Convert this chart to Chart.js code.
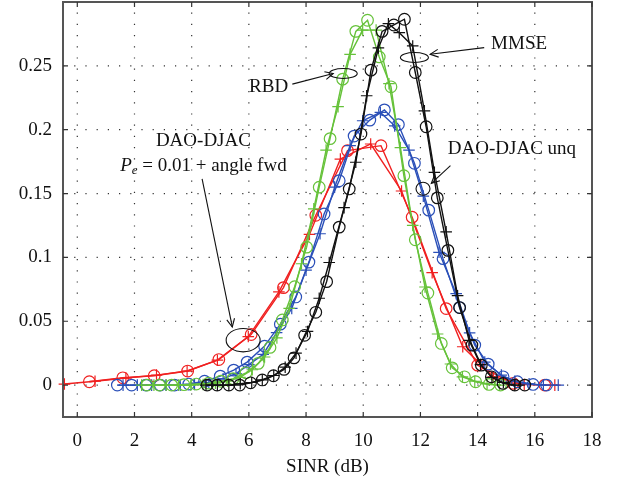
<!DOCTYPE html>
<html><head><meta charset="utf-8">
<script src="https://cdn.jsdelivr.net/npm/chart.js@4.4.0/dist/chart.umd.min.js"></script>
<style>html,body{margin:0;padding:0;background:#fff;}canvas{display:block;}</style>
</head><body>
<canvas id="c" width="617" height="482"></canvas>
<script>
const xTicks = [0,2,4,6,8,10,12,14,16,18];
const yTicks = [0,0.05,0.1,0.15,0.2,0.25];
const yTickLabels = ['0','0.05','0.1','0.15','0.2','0.25'];
const xTitle = 'SINR (dB)';

const redCircX = [0.42,1.59,2.69,3.86,4.95,6.08,7.21,8.34,9.45,10.62,11.71,12.9,14.0,15.24,16.35];
const redCircY = [0.0026,0.0057,0.0073,0.011,0.020,0.0396,0.0763,0.133,0.1836,0.1875,0.1315,0.0599,0.0156,0.0013,0.0];
const redPlusX = [-0.45,0.62,1.7,2.77,3.84,4.9,5.98,7.05,8.12,9.2,10.26,11.34,12.41,13.48,14.55,15.63,16.7];
const redPlusY = [0.0008,0.003,0.0055,0.0078,0.011,0.0195,0.038,0.073,0.118,0.177,0.1888,0.152,0.088,0.030,0.0065,0.0005,0];

const blueCircX = [1.4,1.9,2.4,2.9,3.4,3.9,4.45,5.0,5.47,5.94,6.55,7.1,7.64,8.1,8.63,9.16,9.68,10.23,10.74,11.23,11.79,12.29,12.79,13.37,13.9,14.37,14.89,15.39,15.94,16.41];
const blueCircY = [0,0,0,0,0,0.0008,0.003,0.007,0.0117,0.018,0.0305,0.0477,0.069,0.0963,0.134,0.16,0.195,0.2075,0.2155,0.204,0.1737,0.137,0.099,0.0607,0.0313,0.0164,0.0065,0.0026,0.0005,0];
const bluePlusX = [1.6,2.1,2.6,3.1,3.6,4.1,4.6,5.1,5.55,6.0,6.5,6.97,7.5,8.0,8.49,9.0,9.54,9.98,10.6,11.1,11.6,12.1,12.65,13.25,13.72,14.25,14.83,15.3,15.8,16.3,16.82];
const bluePlusY = [0,0,0,0,0,0.0005,0.002,0.005,0.009,0.016,0.024,0.041,0.06,0.09,0.1185,0.155,0.1875,0.207,0.2135,0.203,0.184,0.148,0.104,0.0716,0.0409,0.018,0.0078,0.003,0.001,0,0];

const greenCircX = [2.44,2.87,3.3,3.73,4.16,4.59,5.02,5.45,5.9,6.33,6.74,7.17,7.6,8.02,8.46,8.84,9.28,9.74,10.15,10.56,10.97,11.42,11.82,12.26,12.73,13.11,13.54,13.93,14.4,14.8];
const greenCircY = [0,0,0,0.0003,0.0008,0.0015,0.003,0.005,0.0096,0.017,0.0295,0.051,0.077,0.108,0.155,0.193,0.2396,0.277,0.2857,0.257,0.2336,0.164,0.1138,0.0721,0.0326,0.0135,0.0065,0.0026,0.0005,0];
const greenPlusX = [2.25,2.68,3.11,3.54,3.97,4.4,4.83,5.26,5.69,6.12,6.55,6.98,7.41,7.84,8.27,8.7,9.12,9.54,9.98,10.45,10.9,11.3,11.73,12.16,12.6,13.05,13.47,13.9,14.33,14.76];
const greenPlusY = [0,0,0,0,0,0.0005,0.0015,0.003,0.006,0.012,0.022,0.037,0.06,0.095,0.138,0.184,0.218,0.259,0.278,0.278,0.236,0.186,0.125,0.0768,0.040,0.0165,0.0065,0.003,0.001,0];

const blackCircX = [4.54,4.89,5.3,5.68,6.06,6.47,6.86,7.23,7.58,7.95,8.34,8.72,9.16,9.51,9.92,10.27,10.66,11.07,11.44,11.82,12.2,12.59,12.96,13.37,13.8,14.13,14.48,14.89,15.3,15.65];
const blackCircY = [0,0,0,0,0.0018,0.004,0.0073,0.0123,0.0213,0.039,0.057,0.081,0.1237,0.1536,0.1966,0.2466,0.277,0.282,0.2865,0.2448,0.2023,0.1466,0.1055,0.0607,0.0313,0.0156,0.0065,0.0013,0,0];
const blackPlusX = [4.5,4.9,5.3,5.7,6.1,6.47,6.87,7.27,7.65,8.05,8.46,8.81,9.33,9.74,10.12,10.53,10.88,11.26,11.73,12.14,12.49,12.9,13.3,13.7,14.1,14.5,14.9,15.3];
const blackPlusY = [0,0,0,0.001,0.002,0.004,0.0075,0.014,0.025,0.042,0.068,0.096,0.139,0.1745,0.2266,0.264,0.283,0.276,0.2656,0.2148,0.1666,0.12,0.07,0.035,0.016,0.006,0.002,0];

const RED='#f02020', BLUE='#2a4fb8', GREEN='#66c23a', BLACK='#111111';
const FONT = "'Liberation Serif','DejaVu Serif',serif";

function pts(xs, ys){ return xs.map((x,i)=>({x:x, y:ys[i]})); }
function ds(xs, ys, color, style){
  return {data: pts(xs,ys), showLine:true, borderColor:color, borderWidth:1.4,
    pointStyle:style, pointRadius:5.8, pointBorderColor:color,
    pointBackgroundColor:'rgba(0,0,0,0)', pointBorderWidth:1.2, tension:0, clip:false};
}

const datasets = [
  ds(blackCircX, blackCircY, BLACK, 'circle'),
  ds(blackPlusX, blackPlusY, BLACK, 'cross'),
  ds(greenCircX, greenCircY, GREEN, 'circle'),
  ds(greenPlusX, greenPlusY, GREEN, 'cross'),
  ds(blueCircX, blueCircY, BLUE, 'circle'),
  ds(bluePlusX, bluePlusY, BLUE, 'cross'),
  ds(redCircX, redCircY, RED, 'circle'),
  ds(redPlusX, redPlusY, RED, 'cross')
];

function arrowLine(ctx, x1,y1,x2,y2){
  ctx.beginPath(); ctx.moveTo(x1,y1); ctx.lineTo(x2,y2); ctx.stroke();
  const ang = Math.atan2(y2-y1, x2-x1), L=9, w=0.45;
  ctx.beginPath();
  ctx.moveTo(x2 - L*Math.cos(ang-w), y2 - L*Math.sin(ang-w));
  ctx.lineTo(x2,y2);
  ctx.lineTo(x2 - L*Math.cos(ang+w), y2 - L*Math.sin(ang+w));
  ctx.stroke();
}

const frame = {
  id:'frame',
  beforeDatasetsDraw(chart){
    const {ctx, chartArea:a, scales:{x,y}} = chart;
    ctx.save();
    ctx.strokeStyle='#333'; ctx.lineWidth=1.2; ctx.setLineDash([1.2,10]);
    xTicks.forEach(v=>{const p=x.getPixelForValue(v); ctx.beginPath(); ctx.moveTo(p,a.bottom); ctx.lineTo(p,a.top); ctx.stroke();});
    yTicks.forEach(v=>{const p=y.getPixelForValue(v); ctx.beginPath(); ctx.moveTo(a.left,p); ctx.lineTo(a.right,p); ctx.stroke();});
    ctx.restore();
  },
  afterDatasetsDraw(chart){
    const {ctx, chartArea:a, scales:{x,y}} = chart;
    const X=v=>x.getPixelForValue(v), Y=v=>y.getPixelForValue(v);
    ctx.save();
    ctx.strokeStyle='#555'; ctx.lineWidth=2;
    ctx.strokeRect(a.left, a.top, a.right-a.left, a.bottom-a.top);
    ctx.lineWidth=1.2; ctx.strokeStyle='#333';
    xTicks.forEach(v=>{const p=X(v); ctx.beginPath(); ctx.moveTo(p,a.bottom); ctx.lineTo(p,a.bottom-5); ctx.moveTo(p,a.top); ctx.lineTo(p,a.top+5); ctx.stroke();});
    yTicks.forEach(v=>{const p=Y(v); ctx.beginPath(); ctx.moveTo(a.left,p); ctx.lineTo(a.left+5,p); ctx.moveTo(a.right,p); ctx.lineTo(a.right-5,p); ctx.stroke();});
    ctx.strokeStyle='#111'; ctx.fillStyle='#111'; ctx.lineWidth=1.1;
    ctx.font = "19px "+FONT; ctx.textAlign='center'; ctx.textBaseline='middle';
    const ell=(cx,cy,rx,ry)=>{ctx.beginPath(); ctx.ellipse(X(cx),Y(cy),rx,ry,0,0,Math.PI*2); ctx.stroke();};
    ctx.fillText('RBD', X(6.69), Y(0.2336));
    arrowLine(ctx, X(7.52),Y(0.2357), X(8.95),Y(0.2440));
    ell(9.30,0.244,14,5);
    ctx.fillText('MMSE', X(15.45), Y(0.267));
    arrowLine(ctx, X(14.23),Y(0.2643), X(12.34),Y(0.2591));
    ell(11.79,0.2565,14,5);
    ctx.fillText('DAO-DJAC unq', X(15.2), Y(0.1849));
    arrowLine(ctx, X(13.05),Y(0.1719), X(12.38),Y(0.158));
    ell(12.09,0.1537,7,6.5);
    ctx.fillText('DAO-DJAC', X(4.41), Y(0.1914));
    const cx=X(4.41), cy=Y(0.1719);
    ctx.font = "italic 19px "+FONT; const wP = ctx.measureText('P').width;
    ctx.font = "italic 13px "+FONT; const we = ctx.measureText('e').width;
    ctx.font = "19px "+FONT; const rest=' = 0.01 + angle fwd'; const wr = ctx.measureText(rest).width;
    let sx = cx - (wP+we+wr)/2;
    ctx.textAlign='left';
    ctx.font = "italic 19px "+FONT; ctx.fillText('P', sx, cy); sx+=wP;
    ctx.font = "italic 13px "+FONT; ctx.fillText('e', sx, cy+5); sx+=we;
    ctx.font = "19px "+FONT; ctx.fillText(rest, sx, cy);
    arrowLine(ctx, X(4.365),Y(0.1615), X(5.42),Y(0.0455));
    ell(5.80,0.0352,17,11.7);
    ctx.restore();
  }
};

new Chart(document.getElementById('c'), {
  type:'scatter',
  data:{datasets},
  options:{
    responsive:false, devicePixelRatio:1, animation:false,
    layout:{autoPadding:false, padding:{top:2,right:25,left:0,bottom:0}},
    plugins:{legend:{display:false}, tooltip:{enabled:false}},
    scales:{
      x:{type:'linear', min:-0.5, max:18,
        afterBuildTicks:s=>{s.ticks = xTicks.map(v=>({value:v}));},
        afterFit:s=>{s.height=65; s.paddingLeft=0; s.paddingRight=0;},
        grid:{display:false, drawTicks:false}, border:{display:false},
        ticks:{color:'#111', font:{family:FONT,size:19}, padding:13, maxRotation:0, autoSkip:false,
          callback:(v)=>String(v)},
        title:{display:true, text:xTitle, color:'#111', font:{family:FONT,size:19}, padding:{top:0,bottom:4}}
      },
      y:{type:'linear', min:-0.025, max:0.3,
        afterBuildTicks:s=>{s.ticks = yTicks.map(v=>({value:v}));},
        afterFit:s=>{s.width=63; s.paddingTop=0; s.paddingBottom=0;},
        grid:{display:false, drawTicks:false}, border:{display:false},
        ticks:{color:'#111', font:{family:FONT,size:19}, padding:11, autoSkip:false,
          callback:(v)=>{const i=yTicks.findIndex(t=>Math.abs(t-v)<1e-9); return i>=0?yTickLabels[i]:'';}}
      }
    }
  },
  plugins:[frame]
});
</script></body></html>
